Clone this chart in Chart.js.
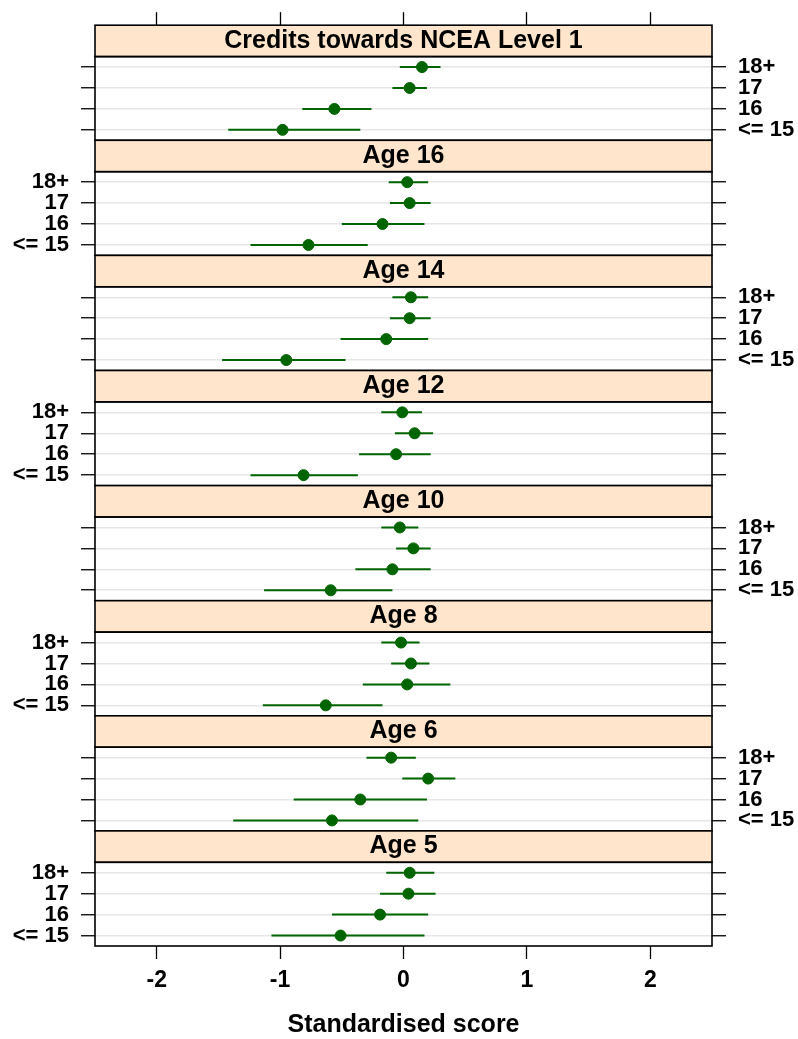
<!DOCTYPE html>
<html>
<head>
<meta charset="utf-8">
<title>Standardised score by age group</title>
<script src="https://cdn.jsdelivr.net/npm/chart.js@4.4.0/dist/chart.umd.min.js"></script>
<style>
  html, body { margin: 0; padding: 0; background: #fff; }
  #wrap { width: 798px; height: 1039px; }
</style>
</head>
<body>
<div id="wrap"><canvas id="dotplot" width="798" height="1039"></canvas></div>
<script>
// Panels top to bottom, groups top to bottom inside each panel
const panels = ['Credits towards NCEA Level 1', 'Age 16', 'Age 14', 'Age 12', 'Age 10', 'Age 8', 'Age 6', 'Age 5'];
const groups = ['18+', '17', '16', '<= 15'];
const xTicks = [-2, -1, 0, 1, 2];

// point estimate and interval, one row per panel, columns follow groups
const estimate = [
    [0.15, 0.05, -0.56, -0.98],
    [0.03, 0.05, -0.17, -0.77],
    [0.06, 0.05, -0.14, -0.95],
    [-0.01, 0.09, -0.06, -0.81],
    [-0.03, 0.08, -0.09, -0.59],
    [-0.02, 0.06, 0.03, -0.63],
    [-0.10, 0.20, -0.35, -0.58],
    [0.05, 0.04, -0.19, -0.51]
];
const lower = [
    [-0.03, -0.09, -0.82, -1.42],
    [-0.12, -0.11, -0.50, -1.24],
    [-0.09, -0.11, -0.51, -1.47],
    [-0.18, -0.07, -0.36, -1.24],
    [-0.18, -0.06, -0.39, -1.13],
    [-0.18, -0.10, -0.33, -1.14],
    [-0.30, -0.01, -0.89, -1.38],
    [-0.14, -0.19, -0.58, -1.07]
];
const upper = [
    [0.30, 0.19, -0.26, -0.35],
    [0.20, 0.22, 0.17, -0.29],
    [0.20, 0.22, 0.20, -0.47],
    [0.15, 0.24, 0.22, -0.37],
    [0.12, 0.22, 0.22, -0.09],
    [0.13, 0.21, 0.38, -0.17],
    [0.10, 0.42, 0.19, 0.12],
    [0.25, 0.26, 0.20, 0.17]
];

const GREEN = '#006400';
const STRIP_BG = '#ffe5cc';
const FONT = "'Liberation Sans', Arial, Helvetica, sans-serif";

// each panel is a strip (in row units) followed by one unit per group
const STRIP = 1.5;
const PANEL = STRIP + groups.length;
const rowY = (p, g) => p * PANEL + STRIP + 0.5 + g;

const rowValues = [];
panels.forEach((_, p) => groups.forEach((_, g) => rowValues.push(rowY(p, g))));

// interval segments, broken by a null point between rows
const ciData = [];
const pointData = [];
panels.forEach((_, p) => {
    groups.forEach((_, g) => {
        ciData.push({ x: lower[p][g], y: rowY(p, g) });
        ciData.push({ x: upper[p][g], y: rowY(p, g) });
        ciData.push({ x: null, y: null });
        pointData.push({ x: estimate[p][g], y: rowY(p, g) });
    });
});

Chart.defaults.font.family = FONT;
Chart.defaults.color = '#000';

// top panel has labels on the right, then they alternate
const yLabel = (side) => (value, index) => {
    const p = Math.floor(index / groups.length);
    const labelSide = p % 2 === 0 ? 'right' : 'left';
    return labelSide === side ? groups[index % groups.length] : '';
};

const yAxis = (side) => ({
    type: 'linear',
    position: side,
    reverse: true,
    min: 0,
    max: panels.length * PANEL,
    afterBuildTicks: (scale) => { scale.ticks = rowValues.map(v => ({ value: v })); },
    afterFit: (scale) => { scale.width = side === 'left' ? 95 : 86; },
    ticks: {
        autoSkip: false,
        padding: 12,
        font: { size: 22, weight: 'bold' },
        callback: yLabel(side)
    },
    grid: {
        drawOnChartArea: side === 'left',
        color: '#e6e6e6',
        lineWidth: 1.5,
        tickColor: '#000',
        tickWidth: 1.3,
        tickLength: 14
    },
    border: { display: false }
});

const xAxis = (side) => ({
    type: 'linear',
    position: side,
    min: -2.5,
    max: 2.5,
    afterBuildTicks: (scale) => { scale.ticks = xTicks.map(v => ({ value: v })); },
    afterFit: (scale) => { scale.height = side === 'top' ? 21 : 93; },
    ticks: {
        display: side === 'bottom',
        padding: 8,
        font: { size: 23, weight: 'bold' }
    },
    grid: {
        drawOnChartArea: false,
        tickColor: '#000',
        tickWidth: 1.3,
        tickLength: 13
    },
    border: { display: false },
    title: {
        display: side === 'bottom',
        text: 'Standardised score',
        font: { size: 25, weight: 'bold', lineHeight: 1 },
        padding: { top: 0, bottom: 1 }
    }
});

// strips with panel names, plus panel borders
const latticePlugin = {
    id: 'lattice',
    beforeDatasetsDraw(chart) {
        const { ctx, chartArea } = chart;
        const y = chart.scales.y;
        const left = chartArea.left, right = chartArea.right;
        ctx.save();
        panels.forEach((name, p) => {
            const top = y.getPixelForValue(p * PANEL);
            const stripBottom = y.getPixelForValue(p * PANEL + STRIP);
            const bottom = y.getPixelForValue((p + 1) * PANEL);
            ctx.fillStyle = STRIP_BG;
            ctx.fillRect(left, top, right - left, stripBottom - top);
            ctx.strokeStyle = '#000';
            ctx.lineWidth = 1.6;
            ctx.strokeRect(left, top, right - left, stripBottom - top);
            ctx.strokeRect(left, stripBottom, right - left, bottom - stripBottom);
            ctx.fillStyle = '#000';
            ctx.font = 'bold 25px ' + FONT;
            ctx.textAlign = 'center';
            ctx.textBaseline = 'middle';
            ctx.fillText(name, (left + right) / 2, (top + stripBottom) / 2);
        });
        ctx.restore();
    }
};

new Chart(document.getElementById('dotplot').getContext('2d'), {
    type: 'line',
    data: {
        datasets: [
            {
                label: 'interval',
                data: ciData,
                showLine: true,
                spanGaps: false,
                borderColor: GREEN,
                borderWidth: 2,
                pointRadius: 0,
                order: 2
            },
            {
                label: 'estimate',
                data: pointData,
                showLine: false,
                pointRadius: 5.5,
                pointBackgroundColor: GREEN,
                pointBorderColor: GREEN,
                pointBorderWidth: 1,
                order: 1
            }
        ]
    },
    options: {
        responsive: false,
        animation: false,
        layout: { padding: 0 },
        plugins: {
            legend: { display: false },
            tooltip: { enabled: false }
        },
        scales: {
            x: xAxis('bottom'),
            x2: xAxis('top'),
            y: yAxis('left'),
            y2: yAxis('right')
        }
    },
    plugins: [latticePlugin]
});
</script>
</body>
</html>
